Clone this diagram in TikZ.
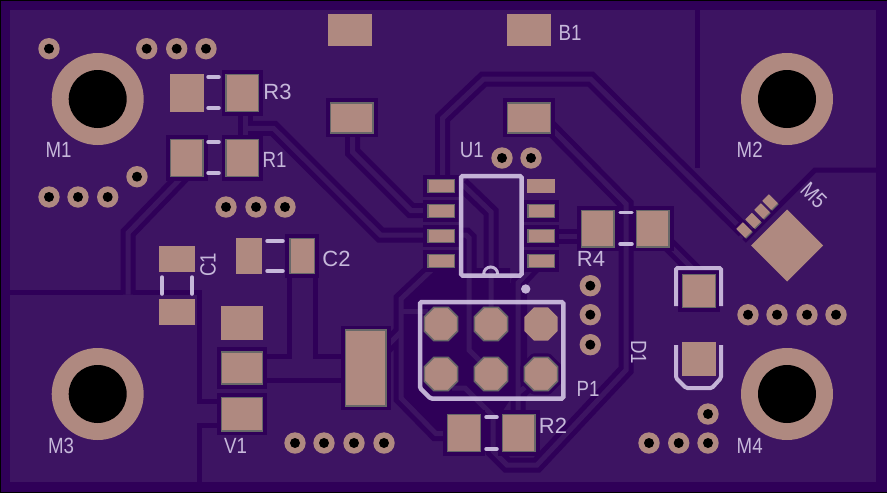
\documentclass[tikz,border=0pt]{standalone}
\usepackage{fontspec}
\setmainfont{Liberation Sans}
\newfontfamily\narrowfont[FakeStretch=0.85]{Liberation Sans}
\definecolor{pour}{RGB}{61,20,98}
\definecolor{clear}{RGB}{47,0,88}
\definecolor{copper}{RGB}{175,137,128}
\definecolor{maskedge}{RGB}{104,104,104}
\definecolor{silk}{RGB}{220,208,236}
\definecolor{silkflat}{RGB}{198,184,218}
\tikzset{
    tracedark/.style={draw=clear,line width=15pt},
    tracelight/.style={draw=pour,line width=5pt},
    split/.style={draw=clear,line width=5pt},
    padplain/.style={fill=copper},
    padhalo/.style={fill=clear},
    padmask/.style={fill=copper,draw=maskedge,line width=1.5pt},
    silkline/.style={draw=silk,draw opacity=0.85,line width=4.5pt,rounded corners=1.5pt},
    silkmark/.style={draw=silkflat,line width=3.5pt,line cap=round},
    silktext/.style={text=silkflat,inner sep=0pt,font=\fontsize{22}{22}\selectfont},
    narrowtext/.style={text=silkflat,inner sep=0pt,font=\narrowfont\fontsize{22}{22}\selectfont},
    via/.style={fill=copper},
    drill/.style={fill=black}
}
%% Every trace centre line, drawn twice (clearance, then copper)
\newcommand{\tracenet}[1]{
    \draw[#1] (245,113) -- (245,140);
    \draw[#1] (245,128.3) -- (273.5,128.3) -- (380.5,235) -- (466,235) -- (469,238)
        -- (469,350) -- (482,363);
    \draw[#1] (442.7,186) -- (442.7,118) -- (483.7,79) -- (590.6,79) -- (744,231);
    \draw[#1] (447,433.7) -- (436,433.7) -- (401,398) -- (401,299) -- (440,262);
    \draw[#1] (385,348) -- (401,332);
    \draw[#1] (401,311) -- (428,311);
    \draw[#1] (352.5,134) -- (352.5,152) -- (411,210.5) -- (430,210.5);
    \draw[#1] (183,176) -- (128,233) -- (128,294.5);
    \draw[#1] (552,236) -- (585,236);
    \draw[#1] (549,126) -- (626,204) -- (626,370) -- (537,465) -- (507,465)
        -- (493,451) -- (493,416) -- (465,388) -- (452,388);
    \draw[#1] (669,245) -- (700,276);
    \draw[#1] (536,264) -- (518,283) -- (518,415);
    \draw[#1] (518,393) -- (528,385);
    \draw[#1] (462,184) -- (491,212) -- (491,310);
}
\newcommand{\octpath}[2]{
    (#1-16.7,#2-7) -- (#1-7,#2-16.7) -- (#1+7,#2-16.7) -- (#1+16.7,#2-7)
    -- (#1+16.7,#2+7) -- (#1+7,#2+16.7) -- (#1-7,#2+16.7) -- (#1-16.7,#2+7) -- cycle
}
\def\maskpads{225.5/74/259/112, 170/139/203.5/177, 225.5/139/259/177,
    330/102.3/373.7/133.3, 507/102.3/551/133.3,
    427.3/204.2/455/217.8, 427.3/229.2/455/242.8, 427.3/254.2/455/267.8, 427.3/179.2/455/192.8,
    527.3/204.2/555/217.8, 527.3/229.2/555/242.8, 527.3/254.2/555/267.8,
    581/210/614.7/247.3, 636/210/669.7/247.3,
    289.3/238/315/274, 221/351.3/263/384.7, 221/397/263/431.3, 345/329.7/386.7/406.3,
    447/414/481/452, 502/414/535.7/452, 682/274/716/308}
\begin{document}
\begin{tikzpicture}[x=1pt,y=-1pt]
    \useasboundingbox (0,0) rectangle (887,493);
    %% Board
    \fill[clear] (0,0) rectangle (887,493);
    \fill[pour] (10,9.5) rectangle (876,482);
    \draw[black,line width=2pt] (887,0) -- (0,0) -- (0,493) -- (887,493);
    %% Clearance round the header
    \fill[clear] (406,299) -- (443,268) -- (510,268) -- (510,283) -- (527,283) -- (527,400)
        -- (510,400) -- (502,412) -- (502,452) -- (481,452) -- (481,428) -- (436,428) -- (406,398) -- cycle;
    %% Pour splits
    \draw[split] (697.5,10) -- (697.5,168);
    \draw[split] (744,241) -- (815,170) -- (876,170);
    \draw[split] (10,292) -- (123,292);
    \draw[split] (133,292) -- (199.5,292) -- (199.5,401.5) -- (220,401.5);
    \draw[split] (220,425) -- (199.5,425) -- (199.5,482);
    \draw[split] (289.5,270) -- (289.5,356) -- (263,356);
    \draw[split] (315,270) -- (315,356) -- (345,356);
    \draw[split] (263,380) -- (345,380);
    %% Traces
    \tracenet{tracedark}
    \tracenet{tracelight}
    %% Clearance of the masked pads
    \foreach \xa/\ya/\xb/\yb in \maskpads
        \fill[padhalo] (\xa-4,\ya-4) rectangle (\xb+4,\yb+4);
    \foreach \cx/\cy in {441/324,491/324,441/374,491/374,541/374}
        \fill[padhalo] \octpath{\cx}{\cy};
    \draw[clear,line width=8pt,line join=round] \octpath{541}{374};
    %% Masked pads
    \foreach \xa/\ya/\xb/\yb in \maskpads
        \draw[padmask] (\xa+.5,\ya+.5) rectangle (\xb-.5,\yb-.5);
    \foreach \cx/\cy in {441/324,491/324,441/374,491/374,541/374}
        \draw[padmask] \octpath{\cx}{\cy};
    %% Open pads
    \foreach \xa/\ya/\xb/\yb in {170/74/203.5/112, 328/14/372/45.7, 507/14/551/45.7,
        527.3/179.2/555/192.8, 159/246/195/272, 159/299/195/325, 236/238/262/274,
        221/306/263/340, 682/342/716/376.3}
        \fill[padplain] (\xa,\ya) rectangle (\xb,\yb);
    \fill[padplain] \octpath{541}{324};
    %% Module on the corner
    \fill[padplain] (787,209.5) -- (823,245.5) -- (787,281.5) -- (751,245.5) -- cycle;
    \fill[clear,rotate around={45:(744,230)}] (738,221) rectangle (750,239);
    \foreach \cx/\cy in {744/230,753/220.5,762/211,770/202}{
        \fill[maskedge,rotate around={45:(\cx+1,\cy+1)}] (\cx-3.7,\cy-5.2) rectangle (\cx+5.7,\cy+7.2);
        \fill[padplain,rotate around={45:(\cx,\cy)}] (\cx-4.7,\cy-6.2) rectangle (\cx+4.7,\cy+6.2);
    }
    %% Small holes
    \foreach \cx/\cy in {49/48.7,146.7/48.7,176.7/48.7,206/48.7,137/176.7,49/197,78/197,107.7/197,
        226/207,256/207,285/207,502/158,531/158,295/443,324/443,354/443,384/443,
        590.3/285.7,590.3/314.7,590.3/344.7,748/314.7,777/314.7,807/314.7,836/314.7,
        708/414,649/443,678.7/443,708/443}{
        \fill[via] (\cx,\cy) circle (10.7);
        \fill[drill] (\cx,\cy) circle (5);
    }
    %% Mounting holes
    \foreach \cx/\cy in {97.7/99,787/99,97.7/394,787/394}{
        \fill[via] (\cx,\cy) circle (46);
        \fill[drill] (\cx,\cy) circle (29);
    }
    %% Silk outlines
    \draw[silkline] (461,176) rectangle (521.5,275.5);
    \draw[silkline,line width=3pt] (483.7,274) arc (180:360:7);
    \fill[silk,fill opacity=0.85] (525.7,289) circle (4.7);
    \draw[silkline] (420,302) -- (563.3,302) -- (563.3,398.5) -- (430.5,398.5) -- (420,388) -- cycle;
    \draw[silkline,line width=4pt] (676,306) -- (676,268) -- (721,268) -- (721,306);
    \draw[silkline,line width=4pt] (676,345) -- (676,378) -- (686,388) -- (712,388) -- (721,378) -- (721,345);
    %% Silk marks
    \foreach \xa/\xb/\cy in {208/219/77,208/219/108,208/219/142,208/219/173,
        620/632/212.7,620/632/244,486/497/417,486/497/449,267/283/241,267/283/271}
        \draw[silkmark] (\xa,\cy) -- (\xb,\cy);
    \foreach \cx in {162,192}
        \draw[silkmark] (\cx,277) -- (\cx,294);
    %% Labels
    \node[narrowtext] (lblMa) at (58.5,150) {M1};
    \node[narrowtext] (lblMb) at (749.7,150) {M2};
    \node[narrowtext] (lblMc) at (61,445.5) {M3};
    \node[narrowtext] (lblMd) at (749.7,445.5) {M4};
    \node[narrowtext,rotate=-45] (lblMe) at (813.7,195) {M5};
    \node[narrowtext] (lblBa) at (570,32.5) {B1};
    \node[silktext] (lblRc) at (277.5,91.5) {R3};
    \node[narrowtext] (lblRa) at (274.5,160) {R1};
    \node[narrowtext] (lblUa) at (471.7,150.5) {U1};
    \node[silktext] (lblRd) at (591,259) {R4};
    \node[narrowtext] (lblPa) at (588,389) {P1};
    \node[silktext] (lblRb) at (553,426) {R2};
    \node[silktext] (lblCb) at (336.5,259) {C2};
    \node[narrowtext,rotate=90] (lblCa) at (208,265) {C1};
    \node[narrowtext,rotate=-90] (lblDa) at (638.7,352) {D1};
    \node[narrowtext] (lblVa) at (235.5,445.5) {V1};
\end{tikzpicture}
\end{document}
